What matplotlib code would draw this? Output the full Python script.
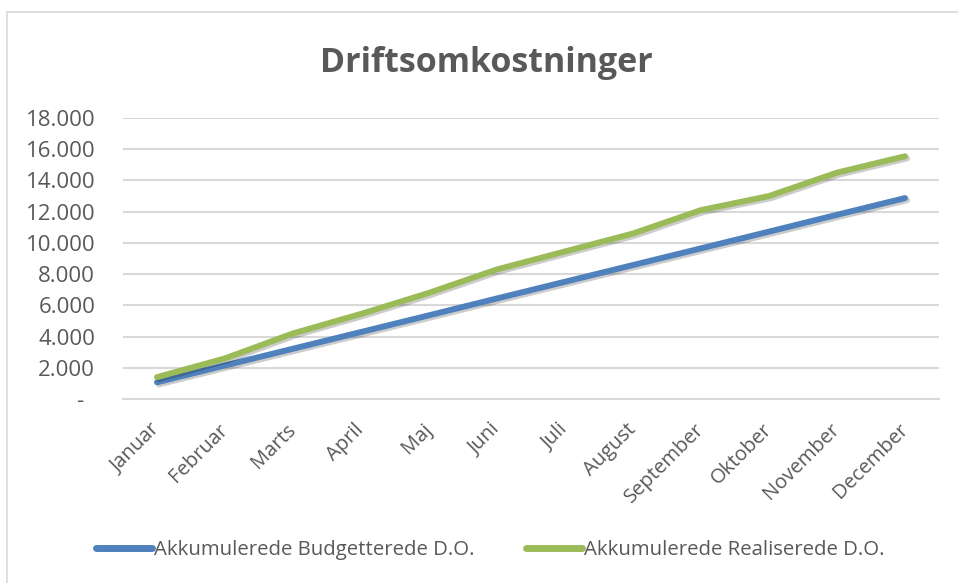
import matplotlib
matplotlib.use("Agg")
import matplotlib.pyplot as plt
import matplotlib.patheffects as pe
from matplotlib.patches import Rectangle
from matplotlib.ticker import FuncFormatter

months = ["Januar", "Februar", "Marts", "April", "Maj", "Juni", "Juli",
          "August", "September", "Oktober", "November", "December"]
budget = [1070, 2150, 3220, 4290, 5360, 6440, 7510, 8580, 9650, 10720, 11800, 12870]
realized = [1400, 2600, 4200, 5450, 6800, 8300, 9450, 10600, 12100, 13000, 14500, 15550]
series_names = ["Akkumulerede Budgetterede D.O.", "Akkumulerede Realiserede D.O."]
title = "Driftsomkostninger"
yticks = [0, 2000, 4000, 6000, 8000, 10000, 12000, 14000, 16000, 18000]

plt.rcParams['font.family'] = ['Open Sans', 'DejaVu Sans']
TXT = '#595959'
GRID = '#D9D9D9'
W, H = 958, 583

fig = plt.figure(figsize=(W / 100, H / 100), dpi=100)
fig.patch.set_facecolor('white')

# chart border
fig.add_artist(Rectangle((7 / W, -0.05), 1.1, 1 - 12 / H + 0.05,
                         transform=fig.transFigure, fill=False,
                         edgecolor=GRID, linewidth=1.2))

ax = fig.add_axes([123 / W, 1 - 399 / H, (939 - 123) / W, (399 - 118) / H])
x = list(range(len(months)))
shadow = [pe.SimpleLineShadow(offset=(1.5, -1.5), shadow_color='black', alpha=0.2),
          pe.Normal()]
ax.plot(x, budget, color='#4F81BD', lw=4.3, solid_capstyle='round',
        solid_joinstyle='round', label=series_names[0], path_effects=shadow, zorder=3)
ax.plot(x, realized, color='#9BBB59', lw=4.3, solid_capstyle='round',
        solid_joinstyle='round', label=series_names[1], path_effects=shadow, zorder=3)

ax.set_xlim(-0.5, len(months) - 0.5)
ax.set_ylim(0, 18000)
ax.set_yticks(yticks)
ax.yaxis.set_major_formatter(FuncFormatter(
    lambda v, p: "-  " if v == 0 else f"{int(v):,}".replace(",", ".")))
ax.set_xticks(x)
ax.set_xticklabels(months, rotation=45, ha='right', va='center',
                   rotation_mode='anchor')
ax.tick_params(axis='both', length=0, colors=TXT)
ax.tick_params(axis='y', pad=20, labelsize=16)
ax.tick_params(axis='x', pad=20, labelsize=14.5)
ax.grid(axis='y', color=GRID, lw=1.5, zorder=0)
for s in ['left', 'right', 'top']:
    ax.spines[s].set_visible(False)
ax.spines['bottom'].set_color(GRID)
ax.spines['bottom'].set_linewidth(1.5)
ax.set_facecolor('white')

fig.text(486 / W, 1 - 72 / H, title, ha='center', va='baseline',
         fontsize=24.5, fontweight='bold', color=TXT)

leg = fig.legend(loc='center', bbox_to_anchor=(490 / W, 1 - 550 / H), ncol=2,
                 frameon=False, fontsize=14.7, handlelength=2.75,
                 handletextpad=0.1, columnspacing=2.5, labelcolor=TXT)
for h in leg.legend_handles:
    h.set_path_effects([])
    h.set_solid_capstyle('round')
    h.set_linewidth(5)

fig.savefig('out.png', dpi=100, facecolor='white')
